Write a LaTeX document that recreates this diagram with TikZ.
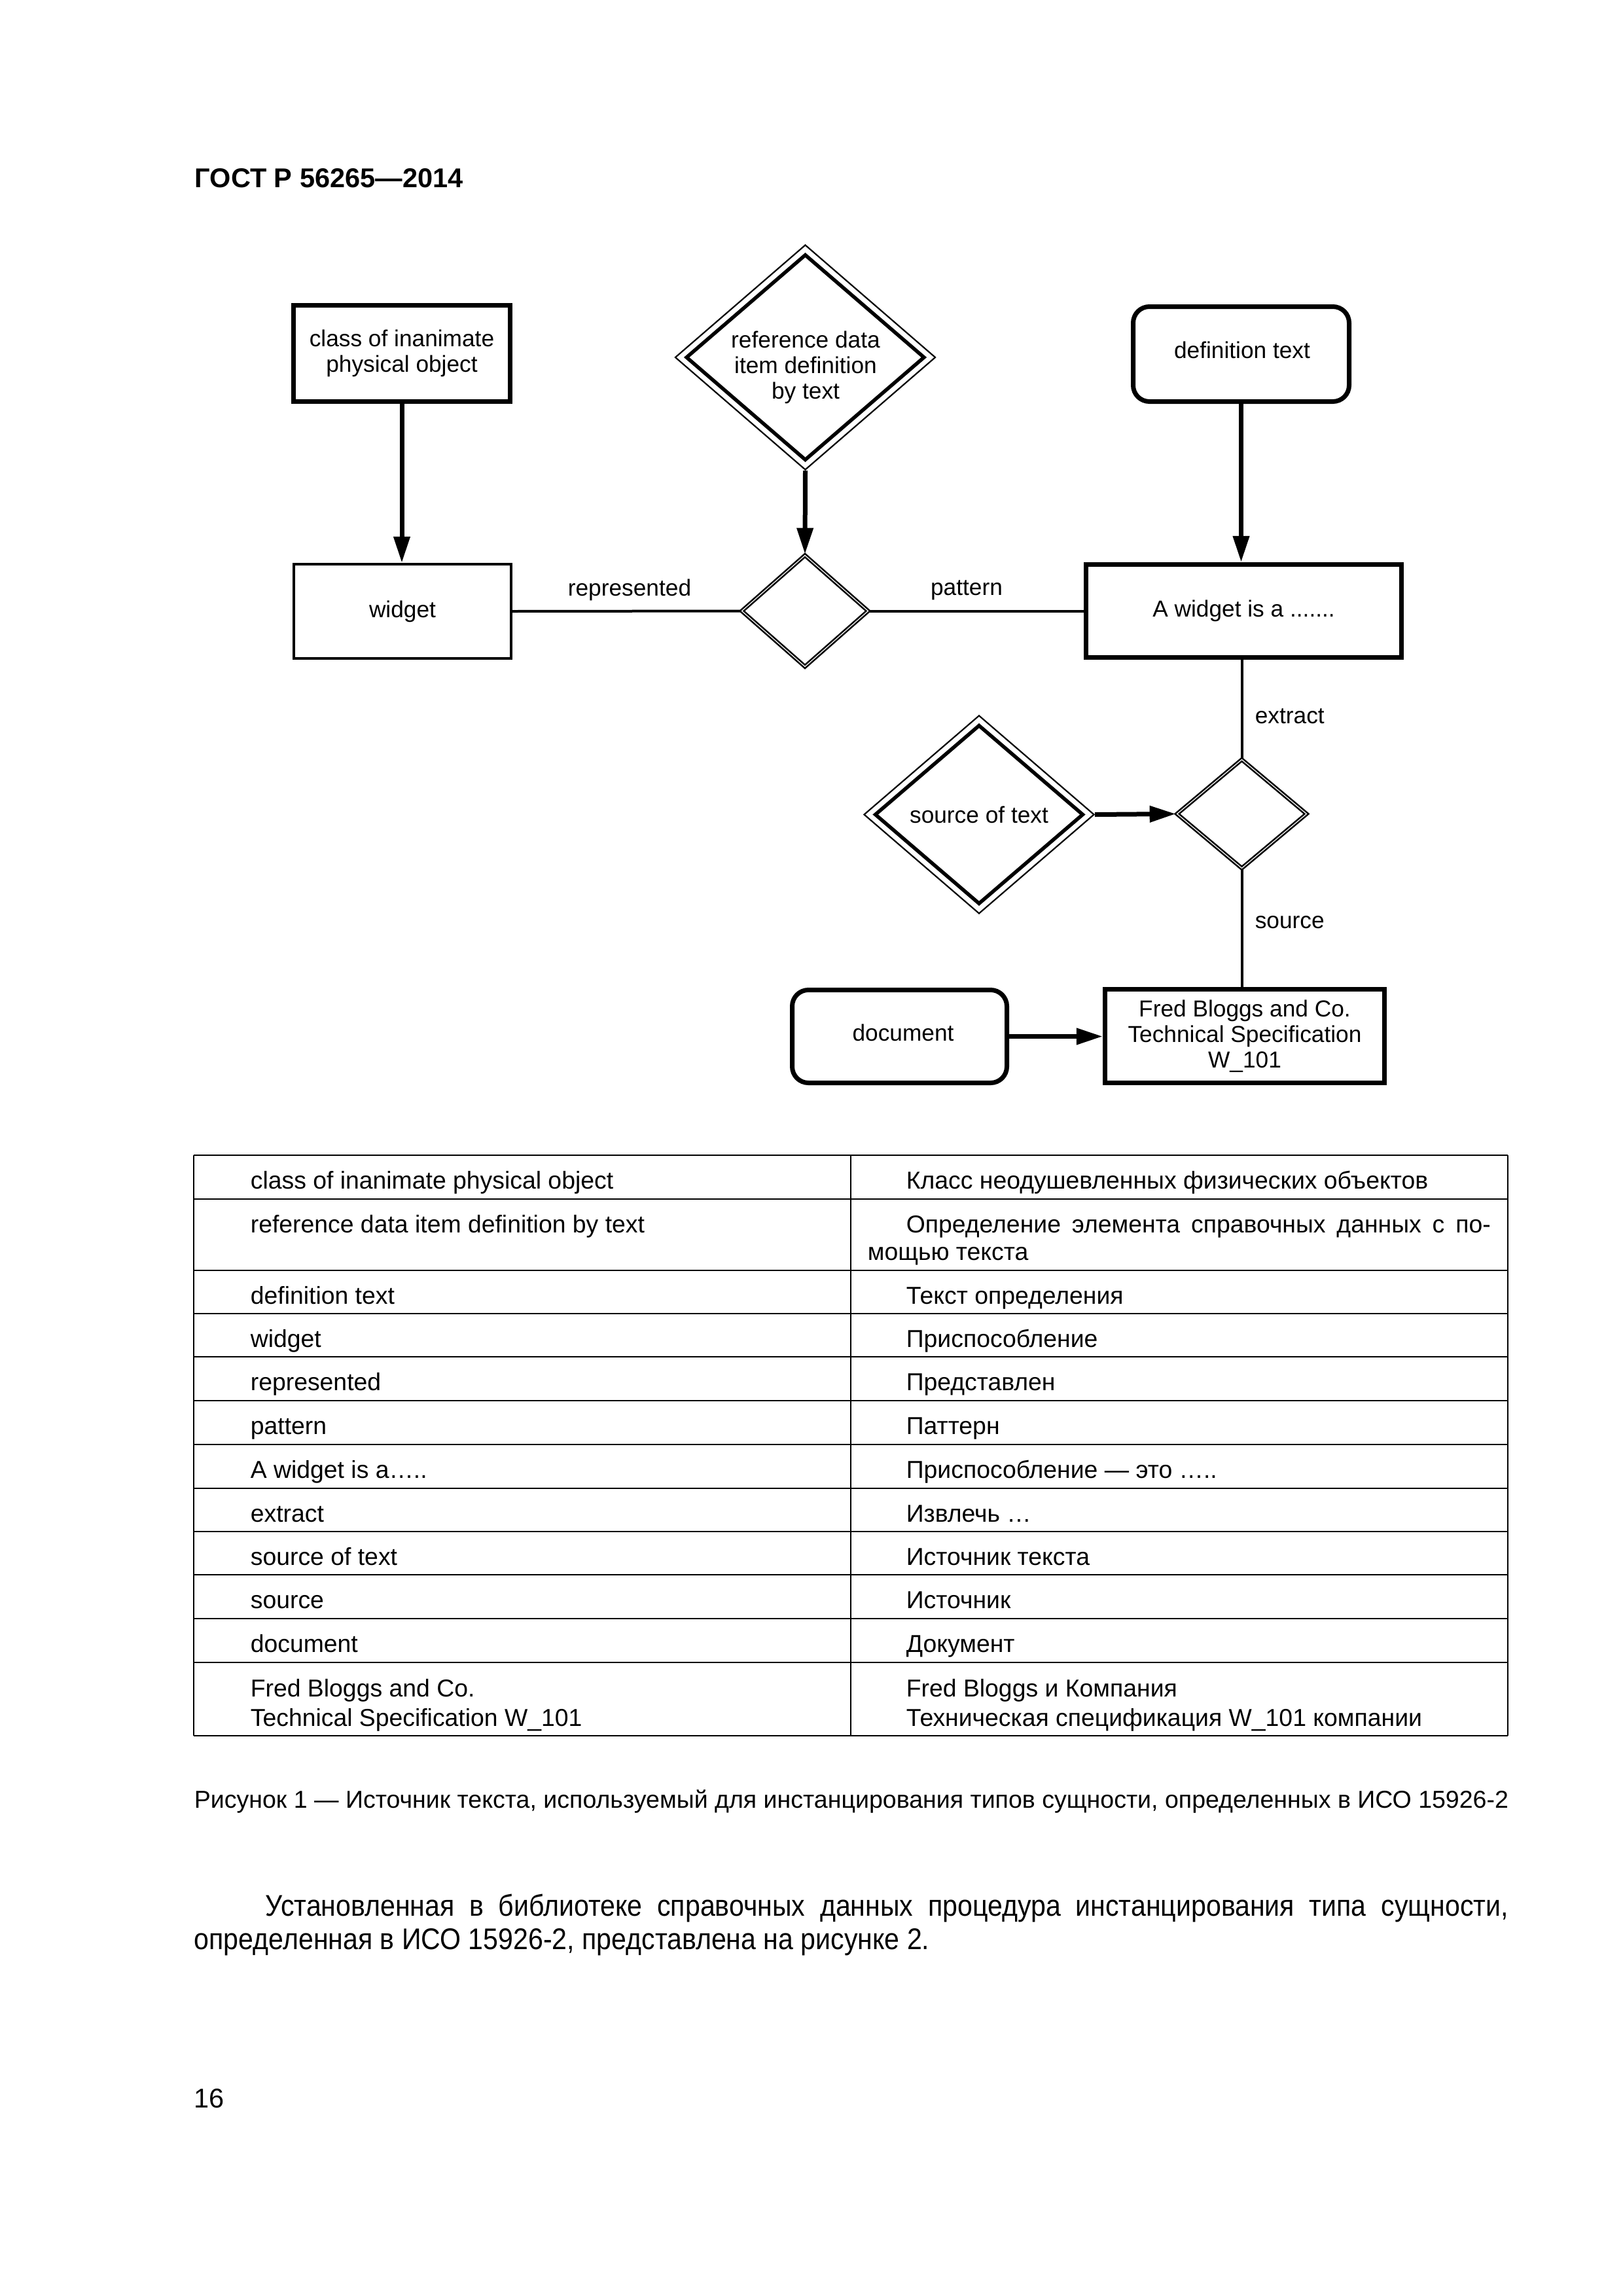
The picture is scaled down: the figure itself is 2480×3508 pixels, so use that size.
\documentclass[tikz,border=0pt]{standalone}
\usepackage{fontspec}
\usepackage{graphicx}
\setmainfont{Liberation Sans}
\newfontfamily\condfont[FakeStretch=0.9]{Liberation Sans}
\usetikzlibrary{shapes.geometric,arrows.meta}
\newdimen\pxu \pxu=0.0846774mm
\newcommand\diagfont{\fontsize{8.5}{9.4}\selectfont}
\newcommand\tabfont{\fontsize{9}{10.5}\selectfont}
\newcommand\bodyfont{\condfont\fontsize{11}{13}\selectfont}
\newcommand\figcapfont{\fontsize{9}{10.5}\selectfont}
\begin{document}
\begin{tikzpicture}[x=0.0846774mm,y=-0.0846774mm,
  wh/.style 2 args={minimum width=#1*0.0846774mm, minimum height=#2*0.0846774mm},
  lw/.style={line width=#1*0.0846774mm},
  box/.style={draw, lw=7, inner sep=0, align=center, font=\diagfont},
  tbox/.style={box, lw=4},
  rbox/.style={box, rounded corners=2.1mm},
  douter/.style={diamond, draw, lw=2.2, inner sep=0},
  dinner/.style={diamond, draw, lw=5.5, inner sep=-3mm, align=center, font=\diagfont},
  ddbl/.style={diamond, draw, double, lw=2.6, double distance=0.1mm, inner sep=0},
  arr/.style={lw=7, -{Triangle[length=3.39mm, width=2.03mm]}},
  conn/.style={lw=4},
  lbl/.style={font=\diagfont, inner sep=0, anchor=base},
  dtext/.style={font=\diagfont, inner sep=0, align=center},
  tline/.style={lw=2},
  tcell/.style={font=\tabfont, inner sep=0, anchor=base west}]
\useasboundingbox (0,0) rectangle (2480,3508);

% header
\node[font=\fontsize{10}{12}\selectfont\bfseries, anchor=base west, inner sep=0] (hdr) at (297,286) {ГОСТ Р 56265—2014};

% diagram nodes
\node[box, wh={331}{147}] (cls) at (614,540) {class of inanimate\\physical object};
\node[douter, wh={398}{344}] (refo) at (1230.5,546) {};
\node[dinner, wh={365}{315}] (ref) at (1230.5,546) {};
\node[dtext] (reft) at (1231,561) {reference data\\item definition\\by text};
\node[rbox, wh={330}{145}] (deft) at (1896.5,541) {};
\node[dtext] (defttext) at (1898,535) {definition text};
\node[tbox, wh={332}{144}] (wid) at (615,934) {widget};
\node[ddbl, wh={194}{171}] (rep) at (1230,933.5) {};
\node[box, wh={482}{142}] (aw) at (1900.5,933.5) {A widget is a .......};
\node[douter, wh={352}{303}] (srco) at (1496,1244.5) {};
\node[dinner, wh={319}{274}] (src) at (1496,1244.5) {source of text};
\node[ddbl, wh={199}{167}] (ext) at (1897.5,1243.5) {};
\node[rbox, wh={328}{142}] (doc) at (1374.5,1583.5) {};
\node[dtext] (doctext) at (1380,1578) {document};
\node[box, wh={427}{143}] (fred) at (1902,1583) {Fred Bloggs and Co.\\Technical Specification\\W\_101};

% connectors
\draw[arr] (cls.south) -- (cls.south |- wid.north);
\draw[arr] (refo.south) -- (rep.north);
\draw[arr] (deft.south) -- (deft.south |- aw.north);
\draw[conn] (wid.east) -- (rep.west);
\draw[conn] (rep.east) -- (aw.west);
\draw[conn] (aw.south -| ext.north) -- (ext.north);
\draw[arr] (srco.east) -- (ext.west);
\draw[conn] (ext.south) -- (ext.south |- fred.north);
\draw[arr] (doc.east) -- (doc.east -| fred.west);

% connector labels
\node[lbl] (lrep) at (962,910) {represented};
\node[lbl] (lpat) at (1477,909) {pattern};
\node[lbl, anchor=base west] (lext) at (1917,1105) {extract};
\node[lbl, anchor=base west] (lsrc) at (1917,1418) {source};

% table grid
\foreach \yy in {1765,1832,1941,2007,2073,2140,2207,2274,2340,2406,2473,2540,2652}
  \draw[tline] (296,\yy) -- (2304,\yy);
\draw[tline] (296,1765) -- (296,2652) (1300,1765) -- (1300,2652) (2304,1765) -- (2304,2652);

% table text
\node[tcell] (a1) at (382,1816) {class of inanimate physical object};
\node[tcell] (b1) at (1384,1816) {Класс неодушевленных физических объектов};
\node[tcell] (a2) at (382,1883) {reference data item definition by text};
\node[tcell] (b2) at (1384,1883) {\makebox[893\pxu][s]{Определение элемента справочных данных с по-}};
\node[tcell] (b2b) at (1325,1925) {мощью текста};
\node[tcell] (a3) at (382,1992) {definition text};
\node[tcell] (b3) at (1384,1992) {Текст определения};
\node[tcell] (a4) at (382,2058) {widget};
\node[tcell] (b4) at (1384,2058) {Приспособление};
\node[tcell] (a5) at (382,2124) {represented};
\node[tcell] (b5) at (1384,2124) {Представлен};
\node[tcell] (a6) at (382,2191) {pattern};
\node[tcell] (b6) at (1384,2191) {Паттерн};
\node[tcell] (a7) at (382,2258) {A widget is a…..};
\node[tcell] (b7) at (1384,2258) {Приспособление — это …..};
\node[tcell] (a8) at (382,2325) {extract};
\node[tcell] (b8) at (1384,2325) {Извлечь …};
\node[tcell] (a9) at (382,2391) {source of text};
\node[tcell] (b9) at (1384,2391) {Источник текста};
\node[tcell] (a10) at (382,2457) {source};
\node[tcell] (b10) at (1384,2457) {Источник};
\node[tcell] (a11) at (382,2524) {document};
\node[tcell] (b11) at (1384,2524) {Документ};
\node[tcell] (a12) at (382,2592) {Fred Bloggs and Co.};
\node[tcell] (a12b) at (382,2637) {Technical Specification W\_101};
\node[tcell] (b12) at (1384,2592) {Fred Bloggs и Компания};
\node[tcell] (b12b) at (1384,2637) {Техническая спецификация W\_101 компании};

% caption
\node[anchor=base west, inner sep=0] (cap) at (296,2762) {\figcapfont\resizebox{2008\pxu}{\height}{Рисунок 1 — Источник текста, используемый для инстанцирования типов сущности, определенных в ИСО 15926-2}};

% body text
\node[anchor=base west, inner sep=0] (p1) at (405,2927) {\bodyfont\makebox[1899\pxu][s]{Установленная в библиотеке справочных данных процедура инстанцирования типа сущности,}};
\node[anchor=base west, inner sep=0] (p2) at (296,2978) {\bodyfont определенная в ИСО 15926-2, представлена на рисунке 2.};

% page number
\node[anchor=base west, inner sep=0, font=\fontsize{10}{12}\selectfont] (pg) at (296,3220) {16};
\end{tikzpicture}
\end{document}
